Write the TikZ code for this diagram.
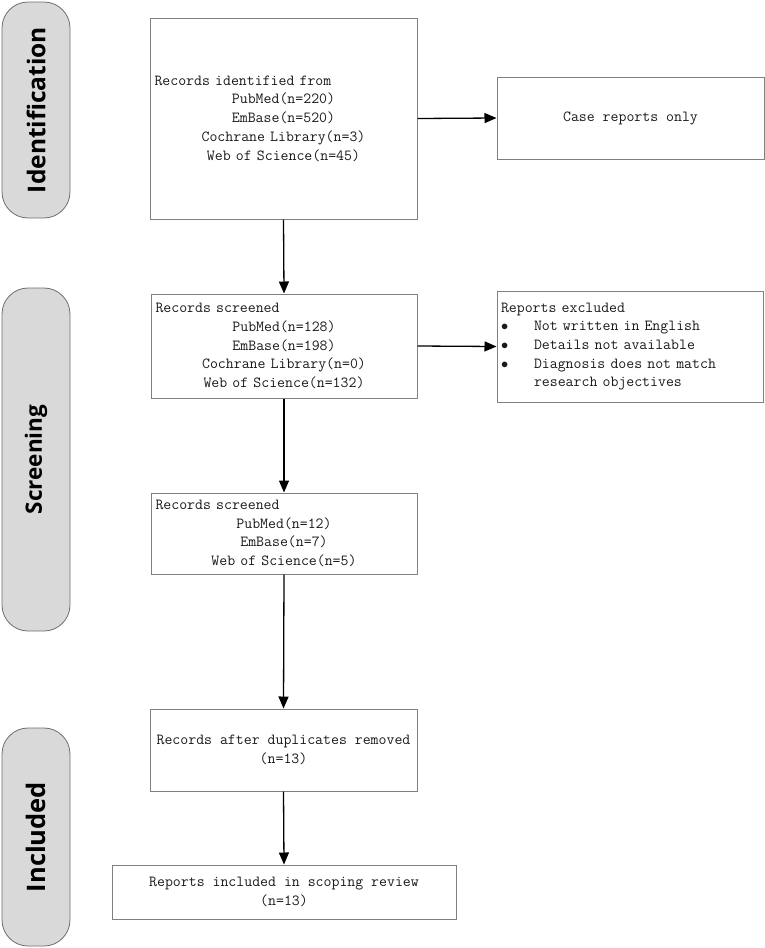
\documentclass[tikz,border=0pt]{standalone}
\usepackage{fontspec}
\newfontfamily\sidefont{Open Sans}
\usetikzlibrary{arrows.meta}
\definecolor{boxgray}{HTML}{808080}
\definecolor{sidefill}{HTML}{D9D9D9}
\definecolor{sidedraw}{HTML}{6E6E6E}
\definecolor{txt}{HTML}{1A1A1A}
\tikzset{
  flowbox/.style={draw=boxgray, line width=1pt, fill=white, inner sep=0pt,
    font=\ttfamily\fontsize{15.4}{18.7}\selectfont, text=txt},
  sidebox/.style={draw=sidedraw, line width=0.8pt, fill=sidefill, rounded corners=26pt,
    rotate=90, minimum height=68pt, inner sep=0pt},
  sidetext/.style={font=\sidefont\bfseries\fontsize{#1}{#1}\selectfont},
  flowarrow/.style={line width=1.3pt, black, -{Triangle[length=12pt,width=10pt]}}
}
\begin{document}
\begin{tikzpicture}[x=1pt,y=-1pt]
\useasboundingbox (0,0) rectangle (765,948);
% side labels
\node[sidebox, sidetext=24.5, minimum width=216pt] (sid) at (36,110) {Identification};
\node[sidebox, sidetext=22.5, minimum width=343pt] (ssc) at (36,459.5) {Screening};
\node[sidebox, sidetext=25.5, minimum width=218pt] (sin) at (36,837) {Included};
% boxes
\node[flowbox, minimum width=267pt, minimum height=201pt, text width=258pt, align=center] (b1) at (283.5,118.5)
 {\makebox[258pt][l]{Records identified from}\\PubMed(n=220)\\EmBase(n=520)\\Cochrane Library(n=3)\\Web of Science(n=45)};
\node[flowbox, minimum width=267pt, minimum height=82pt, align=center] (b2) at (630.5,118) {Case reports only};
\node[flowbox, minimum width=266pt, minimum height=104pt, text width=257pt, align=center] (b3) at (284,346)
 {\makebox[257pt][l]{Records screened}\\PubMed(n=128)\\EmBase(n=198)\\Cochrane Library(n=0)\\Web of Science(n=132)};
\node[flowbox, minimum width=266pt, minimum height=111pt, text width=258pt, align=left] (b4) at (630,346.5)
 {Reports excluded\\
  \makebox[33pt][l]{$\bullet$}Not written in English\\
  \makebox[33pt][l]{$\bullet$}Details not available\\
  \makebox[33pt][l]{$\bullet$}Diagnosis does not match\\
  \hspace*{33pt}research objectives};
\node[flowbox, minimum width=266pt, minimum height=81pt, text width=257pt, align=center] (b5) at (284,533.5)
 {\makebox[257pt][l]{Records screened}\\PubMed(n=12)\\EmBase(n=7)\\Web of Science(n=5)};
\node[flowbox, minimum width=267pt, minimum height=82pt, align=center] (b6) at (283.5,750)
 {Records after duplicates removed\\(n=13)};
\node[flowbox, minimum width=344pt, minimum height=54pt, align=center] (b7) at (284,892)
 {Reports included in scoping review\\(n=13)};
% arrows
\draw[flowarrow] (b1.south) -- (b3.north);
\draw[flowarrow] (b1.east) -- (b2.west);
\draw[flowarrow] (b3.east) -- (b4.west);
\draw[flowarrow] (b3.south) -- (b5.north);
\draw[flowarrow] (b5.south) -- (b6.north);
\draw[flowarrow] (b6.south) -- (b7.north);
\end{tikzpicture}
\end{document}
